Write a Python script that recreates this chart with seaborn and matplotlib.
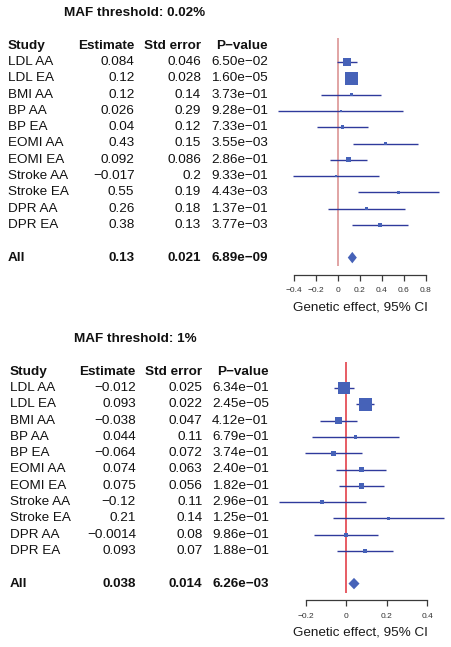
import numpy as np
import pandas as pd
import matplotlib
matplotlib.use("Agg")
import matplotlib.pyplot as plt
import matplotlib.transforms as mtransforms
import seaborn as sns

# ---------------- data ----------------
studies = ["LDL AA", "LDL EA", "BMI AA", "BP AA", "BP EA", "EOMI AA", "EOMI EA",
           "Stroke AA", "Stroke EA", "DPR AA", "DPR EA"]

titles = ["MAF threshold: 0.02%", "MAF threshold: 1%"]

est_002 = [0.084, 0.12, 0.12, 0.026, 0.04, 0.43, 0.092, -0.017, 0.55, 0.26, 0.38]
se_002 = [0.046, 0.028, 0.14, 0.29, 0.12, 0.15, 0.086, 0.2, 0.19, 0.18, 0.13]
est_lbl_002 = ["0.084", "0.12", "0.12", "0.026", "0.04", "0.43", "0.092", "\u22120.017", "0.55", "0.26", "0.38"]
se_lbl_002 = ["0.046", "0.028", "0.14", "0.29", "0.12", "0.15", "0.086", "0.2", "0.19", "0.18", "0.13"]
p_lbl_002 = ["6.50e\u221202", "1.60e\u221205", "3.73e\u221201", "9.28e\u221201", "7.33e\u221201", "3.55e\u221203",
             "2.86e\u221201", "9.33e\u221201", "4.43e\u221203", "1.37e\u221201", "3.77e\u221203"]
all_est_002, all_se_002 = 0.13, 0.021
all_lbl_002 = ["0.13", "0.021", "6.89e\u221209"]
ticks_002 = [-0.4, -0.2, 0, 0.2, 0.4, 0.6, 0.8]
tick_lbl_002 = ["\u22120.4", "\u22120.2", "0", "0.2", "0.4", "0.6", "0.8"]

est_1 = [-0.012, 0.093, -0.038, 0.044, -0.064, 0.074, 0.075, -0.12, 0.21, -0.0014, 0.093]
se_1 = [0.025, 0.022, 0.047, 0.11, 0.072, 0.063, 0.056, 0.11, 0.14, 0.08, 0.07]
est_lbl_1 = ["\u22120.012", "0.093", "\u22120.038", "0.044", "\u22120.064", "0.074", "0.075", "\u22120.12",
             "0.21", "\u22120.0014", "0.093"]
se_lbl_1 = ["0.025", "0.022", "0.047", "0.11", "0.072", "0.063", "0.056", "0.11", "0.14", "0.08", "0.07"]
p_lbl_1 = ["6.34e\u221201", "2.45e\u221205", "4.12e\u221201", "6.79e\u221201", "3.74e\u221201", "2.40e\u221201",
           "1.82e\u221201", "2.96e\u221201", "1.25e\u221201", "9.86e\u221201", "1.88e\u221201"]
all_est_1, all_se_1 = 0.038, 0.014
all_lbl_1 = ["0.038", "0.014", "6.26e\u221203"]
ticks_1 = [-0.2, 0, 0.2, 0.4]
tick_lbl_1 = ["\u22120.2", "0", "0.2", "0.4"]

# ---------------- style ----------------
sns.set_theme(style="white")
plt.rcParams["font.family"] = ["Liberation Sans", "DejaVu Sans"]

W, H = 451, 647
DPI = 100
fig = plt.figure(figsize=(W / DPI, H / DPI), dpi=DPI)

FS = 9.7
BOX_COL = "#4662B8"
LINE_COL = "#2F3A9C"
AXIS_COL = "#3a3a3a"


def fx(px):
    return px / W


def panel(y_title, y_row0, y_axis_top, y_axis_bottom, xlim_lo, xlim_hi,
          col_x, line_top_idx, line_bot_idx, est, se, est_lbl, se_lbl, p_lbl,
          all_est, all_se, all_lbl, ticks, tick_lbl, ref_col, title):
    step = 16.3
    y_top_idx = (y_axis_top - y_row0) / step
    y_bot_idx = (y_axis_bottom - y_row0) / step
    ax = fig.add_axes([fx(270), 1 - y_axis_bottom / H, fx(451 - 270), (y_axis_bottom - y_axis_top) / H])
    ax.set_xlim(xlim_lo, xlim_hi)
    ax.set_ylim(y_bot_idx, y_top_idx)
    n = len(studies)
    rows = np.arange(n)
    all_row = n + 1

    # reference line
    ax.vlines(0, line_top_idx, line_bot_idx, color=ref_col, lw=1.1, zorder=1)

    est_a = np.array(est)
    se_a = np.array(se)
    lo = est_a - 1.96 * se_a
    hi = est_a + 1.96 * se_a
    ax.hlines(rows, lo, hi, color=LINE_COL, lw=1.0, zorder=2)

    side_px = 12.2 * se_a.min() / se_a + 0.9
    side_pt = side_px * 72 / DPI
    df = pd.DataFrame({"est": est_a, "row": rows})
    sns.scatterplot(data=df, x="est", y="row", marker="s", s=side_pt ** 2,
                    color=BOX_COL, linewidth=0, ax=ax, zorder=3, legend=False)

    # summary diamond
    alo = all_est - 1.96 * all_se
    ahi = all_est + 1.96 * all_se
    hh = 0.35
    ax.fill([alo, all_est, ahi, all_est], [all_row, all_row - hh, all_row, all_row + hh],
            color=BOX_COL, lw=0, zorder=3)

    # axis
    for s in ["top", "right", "left"]:
        ax.spines[s].set_visible(False)
    ax.spines["bottom"].set_bounds(ticks[0], ticks[-1])
    ax.spines["bottom"].set_color(AXIS_COL)
    ax.spines["bottom"].set_linewidth(0.9)
    ax.set_xticks(ticks)
    ax.set_xticklabels(tick_lbl)
    ax.tick_params(axis="x", bottom=True, direction="out", length=4, width=0.9,
                   color=AXIS_COL, labelsize=6.0, labelcolor="#333333", pad=5)
    ax.set_yticks([])
    ax.set_xlabel("Genetic effect, 95% CI", fontsize=FS, color="#1a1a1a", labelpad=5)
    ax.set_ylabel("")
    ax.patch.set_alpha(0)

    # table text
    tr = mtransforms.blended_transform_factory(fig.transFigure, ax.transData)
    xs, xe, xse, xp = col_x
    hdr = -1
    kw = dict(transform=tr, fontsize=FS, color="#111111", va="center", clip_on=False)
    ax.text(fx(xs), hdr, "Study", ha="left", weight="bold", **kw)
    ax.text(fx(xe), hdr, "Estimate", ha="right", weight="bold", **kw)
    ax.text(fx(xse), hdr, "Std error", ha="right", weight="bold", **kw)
    ax.text(fx(xp), hdr, "P\u2212value", ha="right", weight="bold", **kw)
    for i in range(n):
        ax.text(fx(xs), i, studies[i], ha="left", **kw)
        ax.text(fx(xe), i, est_lbl[i], ha="right", **kw)
        ax.text(fx(xse), i, se_lbl[i], ha="right", **kw)
        ax.text(fx(xp), i, p_lbl[i], ha="right", **kw)
    ax.text(fx(xs), all_row, "All", ha="left", weight="bold", **kw)
    ax.text(fx(xe), all_row, all_lbl[0], ha="right", weight="bold", **kw)
    ax.text(fx(xse), all_row, all_lbl[1], ha="right", weight="bold", **kw)
    ax.text(fx(xp), all_row, all_lbl[2], ha="right", weight="bold", **kw)

    fig.text(fx(135), 1 - y_title / H, title, ha="center", va="center",
             fontsize=FS, weight="bold", color="#111111")
    return ax


# top panel: -0.4 at px 294, 0.8 at px 426
ppu_top = (426 - 294) / 1.2
panel(y_title=13, y_row0=62, y_axis_top=36, y_axis_bottom=275,
      xlim_lo=-0.4 - (294 - 270) / ppu_top, xlim_hi=0.8 + (451 - 426) / ppu_top,
      col_x=(8, 134.5, 201, 268), line_top_idx=-1.47, line_bot_idx=12.5,
      est=est_002, se=se_002, est_lbl=est_lbl_002, se_lbl=se_lbl_002, p_lbl=p_lbl_002,
      all_est=all_est_002, all_se=all_se_002, all_lbl=all_lbl_002,
      ticks=ticks_002, tick_lbl=tick_lbl_002, ref_col="#D98C8C", title=titles[0])

# bottom panel: -0.2 at px 306, 0.4 at px 427
ppu_bot = (427 - 306) / 0.6
panel(y_title=339, y_row0=388, y_axis_top=360, y_axis_bottom=600,
      xlim_lo=-0.2 - (306 - 270) / ppu_bot, xlim_hi=0.4 + (451 - 427) / ppu_bot,
      col_x=(10, 136, 202.5, 269), line_top_idx=-1.6, line_bot_idx=12.58,
      est=est_1, se=se_1, est_lbl=est_lbl_1, se_lbl=se_lbl_1, p_lbl=p_lbl_1,
      all_est=all_est_1, all_se=all_se_1, all_lbl=all_lbl_1,
      ticks=ticks_1, tick_lbl=tick_lbl_1, ref_col="#E0303A", title=titles[1])

fig.savefig("out.png", dpi=DPI)
